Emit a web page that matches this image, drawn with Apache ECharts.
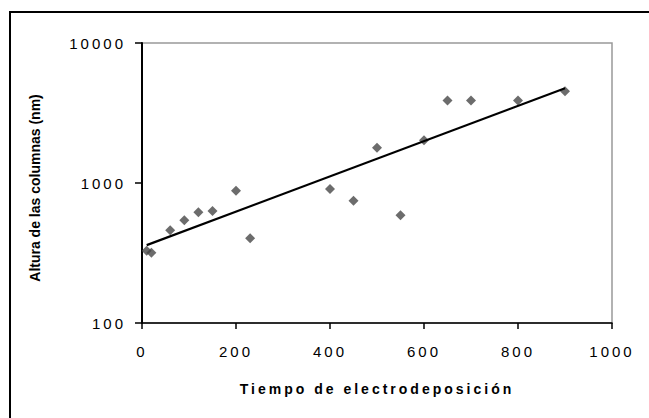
<!DOCTYPE html>
<html><head><meta charset="utf-8">
<script src="https://cdn.jsdelivr.net/npm/echarts@6/dist/echarts.min.js"></script>
<style>
html,body{margin:0;padding:0;background:#fff}
#chart{width:649px;height:418px}
#chart text{letter-spacing:3px}
#chart text[style*="Arial"]{letter-spacing:0}
</style>
</head><body><div id="chart"></div>
<script>
// Data
const tiempo = [10, 20, 60, 90, 120, 150, 200, 230, 400, 450, 500, 550, 600, 650, 700, 800, 900];
const altura = [328, 318, 459, 541, 617, 631, 881, 403, 906, 748, 1786, 588, 2018, 3891, 3891, 3891, 4519];
// Exponential trend line end points
const trendX = [10, 900];
const trendY = [360, 4750];
const xTicks = [0, 200, 400, 600, 800, 1000];
const yTicks = [100, 1000, 10000];
const xTitle = 'Tiempo de electrodeposición';
const yTitle = 'Altura de las columnas (nm)';

const chart = echarts.init(document.getElementById('chart'), null, {renderer: 'svg'});
const labelFont = {fontFamily: '"Liberation Sans"', fontSize: 15, color: '#000'};
chart.setOption({
  animation: false,
  backgroundColor: '#fff',
  grid: {left: 142, right: 37, top: 43, bottom: 95, show: true, borderColor: '#999', borderWidth: 1.5, backgroundColor: '#fff'},
  xAxis: {
    type: 'value', min: xTicks[0], max: xTicks[xTicks.length - 1], interval: xTicks[1] - xTicks[0],
    axisLine: {show: true, onZero: false, lineStyle: {color: '#000', width: 1.5}},
    axisTick: {show: true, inside: false, length: 6, lineStyle: {color: '#000', width: 1.5}},
    splitLine: {show: false},
    axisLabel: Object.assign({margin: 21, formatter: v => String(Math.round(v))}, labelFont),
    name: xTitle, nameLocation: 'middle', nameGap: 59,
    nameTextStyle: {fontFamily: '"Liberation Sans"', fontWeight: 'bold', fontSize: 14, color: '#000'}
  },
  yAxis: {
    type: 'log', logBase: 10, min: yTicks[0], max: yTicks[yTicks.length - 1],
    axisLine: {show: true, onZero: false, lineStyle: {color: '#000', width: 2}},
    axisTick: {show: true, inside: false, length: 7, lineStyle: {color: '#000', width: 1.5}},
    splitLine: {show: false},
    minorTick: {show: false},
    axisLabel: Object.assign({margin: 16, formatter: v => String(Math.round(v))}, labelFont)
  },
  graphic: [
    {type: 'rect', silent: true, z: 100, shape: {x: 10, y: 12, width: 720, height: 500},
     style: {fill: 'none', stroke: '#000', lineWidth: 2}},
    {type: 'text', silent: true, x: 35, y: 188, rotation: Math.PI / 2,
     style: {text: yTitle, fontFamily: 'Arial', fontWeight: 'bold', fontSize: 14, fill: '#000',
             align: 'center', verticalAlign: 'middle', textAlign: 'center', textVerticalAlign: 'middle'}}
  ],
  series: [
    {type: 'scatter', symbol: 'diamond', symbolSize: 10, itemStyle: {color: '#474747'},
     data: tiempo.map((x, i) => [x, altura[i]]), z: 2},
    {type: 'line', showSymbol: false, symbol: 'none', lineStyle: {color: '#000', width: 2.2},
     data: trendX.map((x, i) => [x, trendY[i]]), z: 3}
  ]
});
</script>
</body></html>
